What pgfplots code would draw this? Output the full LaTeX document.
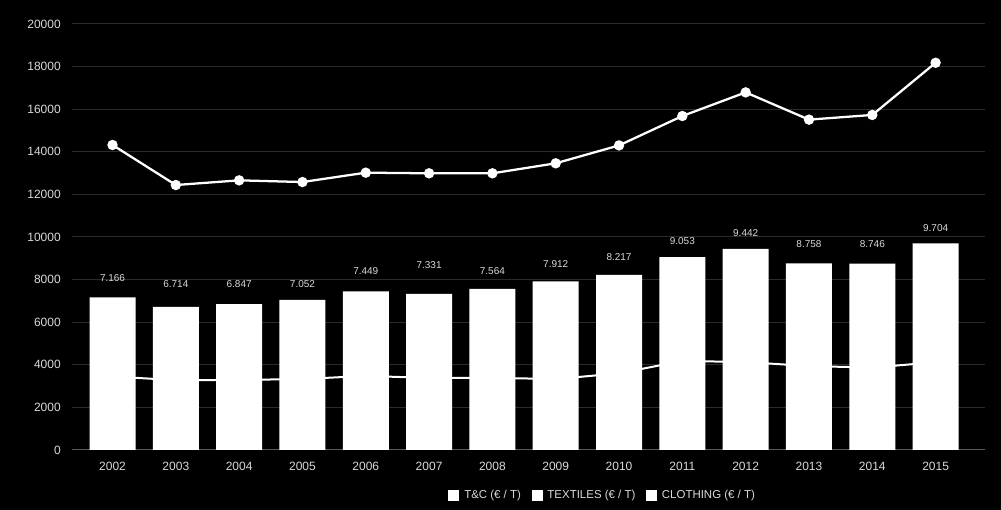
\documentclass[border=0pt]{standalone}
\usepackage{fontspec}
\setmainfont{Liberation Sans}
\usepackage{pgfplots}
\usepackage{pgfplotstable}
\pgfplotsset{compat=1.18}
\definecolor{tickc}{HTML}{D9D9D9}
\definecolor{gridc}{HTML}{2B2B2B}
\definecolor{axisc}{HTML}{595959}

\pgfplotstableread{
x tc tex clo laby lab
0  7166 3450 14320 8090  7.166
1  6714 3280 12440 7810  6.714
2  6847 3290 12660 7810  6.847
3  7052 3330 12580 7810  7.052
4  7449 3480 13020 8400  7.449
5  7331 3380 12990 8700  7.331
6  7564 3390 12990 8400  7.564
7  7912 3330 13460 8720  7.912
8  8217 3600 14300 9080  8.217
9  9053 4180 15680 9830  9.053
10 9442 4130 16790 10200 9.442
11 8758 3940 15510 9690  8.758
12 8746 3870 15730 9690  8.746
13 9704 4120 18180 10440 9.704
}\data

\begin{document}
\begin{tikzpicture}
\fill[black] (-54pt,-45pt) rectangle (696.75pt,337.5pt);
\begin{axis}[
  at={(0pt,0pt)}, anchor=south west,
  scale only axis, width=684.75pt, height=319.5pt,
  xmin=-0.64, xmax=13.78, ymin=0, ymax=20000,
  axis x line*=bottom, axis y line*=left,
  x axis line style={axisc, line width=0.75pt, -},
  y axis line style={draw=none},
  xtick={0,...,13},
  xticklabels={2002,2003,2004,2005,2006,2007,2008,2009,2010,2011,2012,2013,2014,2015},
  ytick={0,2000,...,20000},
  scaled y ticks=false,
  major tick length=0pt,
  ymajorgrids, grid style={gridc, line width=0.75pt},
  /pgf/number format/set thousands separator={},
  /pgf/number format/assume math mode=true,
  tick label style={font=\fontsize{9}{10}\selectfont, text=tickc, inner sep=0pt},
  yticklabel style={xshift=-8.25pt},
  xticklabel style={yshift=-8.8pt},
  clip=false,
  legend columns=3,
  legend style={at={(0.5816,-0.1056)}, anchor=center, draw=none, fill=none,
    text=tickc, font=\fontsize{8.6}{9}\selectfont,
    /tikz/every odd column/.append style={column sep=2pt},
    /tikz/every even column/.append style={column sep=6pt}},
  legend image code/.code={\fill[white] (0pt,-3.75pt) rectangle (7.5pt,3.75pt);},
]
\addplot[forget plot, color=white, line width=1.5pt, mark=none] table[x=x,y=tex]{\data};
\addplot[forget plot, ybar, bar width=34.5pt, fill=white, draw=none] table[x=x,y=tc]{\data};
\addplot[forget plot, color=white, line width=1.7pt, mark=*, mark size=3pt] table[x=x,y=clo]{\data};
\addplot[forget plot, draw=none, mark=none, nodes near coords, point meta=explicit symbolic,
  every node near coord/.append style={font=\fontsize{7.5}{8}\selectfont, text=tickc, anchor=center, inner sep=0pt}]
  table[x=x,y=laby,meta=lab]{\data};
\addlegendimage{white}
\addlegendentry{T\&C (€ / T)}
\addlegendimage{white}
\addlegendentry{TEXTILES (€ / T)}
\addlegendimage{white}
\addlegendentry{CLOTHING (€ / T)}
\end{axis}
\pgfresetboundingbox
\useasboundingbox (-54pt,-45pt) rectangle (696.75pt,337.5pt);
\end{tikzpicture}
\end{document}
